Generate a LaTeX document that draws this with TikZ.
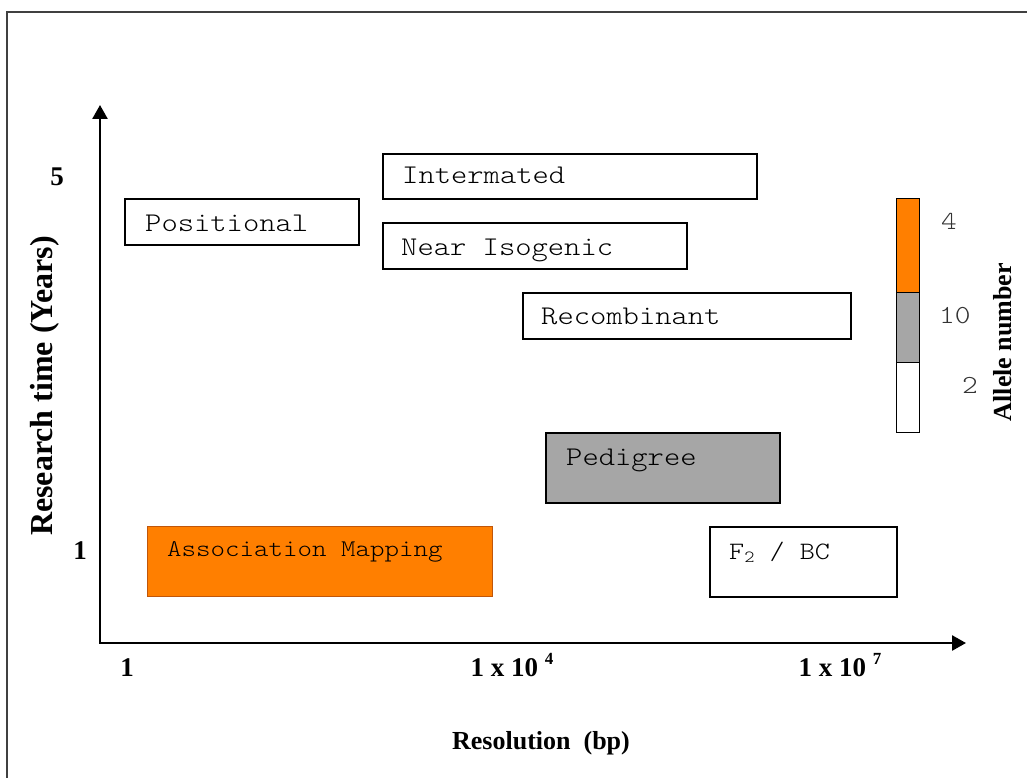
\documentclass[tikz,border=0pt]{standalone}
\usepackage{fontspec}
\setmainfont{Liberation Serif}
\newfontfamily\cour[FakeStretch=1.15]{Latin Modern Mono Light}
\usetikzlibrary{arrows.meta,calc}
\definecolor{orng}{HTML}{FF7F00}
\definecolor{orngdark}{HTML}{C0560A}
\definecolor{gry}{HTML}{A6A6A6}
\definecolor{txtgray}{HTML}{000000}
\begin{document}
\begin{tikzpicture}[x=1pt,y=-1pt,
  box/.style={draw=black, line width=1.6pt, rectangle, inner sep=0pt, anchor=north west},
  boxtext/.style={font=\fontsize{27}{30}\selectfont\cour, text=txtgray, anchor=base west, inner sep=0pt},
  legnum/.style={font=\fontsize{26}{28}\selectfont\cour, text=black!80, anchor=base west, inner sep=0pt},
  axlbl/.style={font=\fontsize{27}{30}\selectfont\bfseries, inner sep=0pt},
  axis/.style={line width=2.6pt, {Triangle[length=14pt,width=15pt]}-{Triangle[length=14pt,width=15pt]}},
  frame/.style={draw=black!75, line width=2pt}
]
\useasboundingbox (0,0) rectangle (1027,778);

% outer frame (only top and left visible)
\coordinate (fbl) at (7,790);
\coordinate (ftl) at (7,12);
\coordinate (ftr) at (1040,12);
\draw[frame] (fbl) -- (ftl) -- (ftr);

% axes
\coordinate (ytip) at (100,105);
\coordinate (orig) at (100,643);
\coordinate (xtip) at (966,643);
\draw[axis] (ytip) -- (orig) -- (xtip);

% boxes
\node[box, minimum width=374pt, minimum height=45pt] (inter) at (382,153) {};
\node[boxtext] (intert) at ($(inter.north west)+(20,31)$) {Intermated};

\node[box, minimum width=234pt, minimum height=46pt] (pos) at (124,198) {};
\node[boxtext] (post) at ($(pos.north west)+(21,33)$) {Positional};

\node[box, minimum width=304pt, minimum height=46pt] (near) at (382,222) {};
\node[boxtext] (neart) at ($(near.north west)+(19,33)$) {Near Isogenic};

\node[box, minimum width=328pt, minimum height=46pt] (rec) at (522,292) {};
\node[boxtext] (rect) at ($(rec.north west)+(19,32)$) {Recombinant};

\node[box, fill=gry, minimum width=234pt, minimum height=70pt] (ped) at (545,432) {};
\node[boxtext] (pedt) at ($(ped.north west)+(21,33)$) {Pedigree};

\node[box, draw=orngdark, line width=1.2pt, fill=orng, minimum width=345pt, minimum height=70pt] (assoc) at (147,526) {};
\node[boxtext, font=\fontsize{24}{26}\selectfont\cour] (assoct) at ($(assoc.north west)+(20,30)$) {Association Mapping};

\node[box, minimum width=187pt, minimum height=70pt] (f2) at (709,526) {};
\node[boxtext, font=\fontsize{25}{27}\selectfont\cour] (f2t) at ($(f2.north west)+(20,33)$) {F\raisebox{-0.3ex}{\fontsize{17}{17}\selectfont 2} / BC};

% legend bar
\node[box, line width=1.4pt, fill=orng, minimum width=23pt, minimum height=94pt] (lo) at (896,198) {};
\node[box, line width=1.4pt, fill=gry, minimum width=23pt, minimum height=70pt] (lg) at (896,292) {};
\node[box, line width=1.4pt, fill=white, minimum width=23pt, minimum height=70pt] (lw) at (896,362) {};
\node[legnum] (l4) at (941,229) {4};
\node[legnum] (l10) at (939,323) {10};
\node[legnum] (l2) at (962,393) {2};
\node[axlbl, font=\fontsize{26}{28}\selectfont\bfseries, rotate=90] (allele) at (1003,342) {Allele number};

% axis labels
\node[axlbl, font=\fontsize{32}{34}\selectfont\bfseries, rotate=90] (ylab) at (45,386) {Research time (Years)};
\node[axlbl] (y5) at (57,177) {5};
\node[axlbl] (y1) at (80,551) {1};

\node[axlbl, anchor=base] (x1) at (127,676) {1};
\node[axlbl, anchor=base] (x4) at (512,676) {1 x 10 \raisebox{0.42em}{\fontsize{17}{17}\selectfont 4}};
\node[axlbl, anchor=base] (x7) at (840,676) {1 x 10 \raisebox{0.42em}{\fontsize{17}{17}\selectfont 7}};
\node[axlbl, font=\fontsize{26}{28}\selectfont\bfseries, anchor=base] (xlab) at (541,749) {Resolution\ \ (bp)};
\end{tikzpicture}
\end{document}
